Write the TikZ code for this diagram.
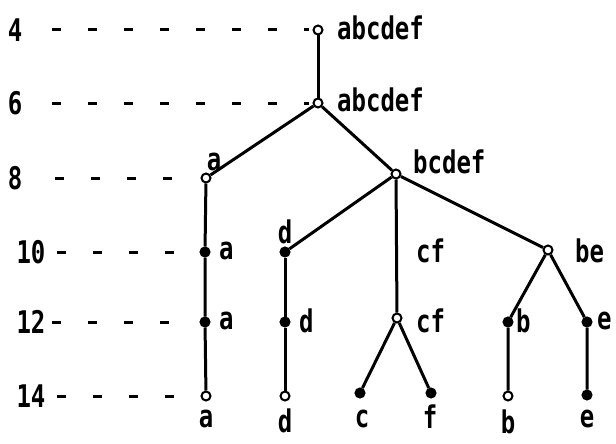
\documentclass[tikz,border=0pt]{standalone}
\usepackage{fontspec}
\usepackage{graphicx}
\setmonofont{DejaVu Sans Mono}
\newcommand{\tall}[1]{\scalebox{1}[1.3]{#1}}
\begin{document}
\begin{tikzpicture}[x=1pt,y=-1pt,
  opn/.style={circle,draw,line width=2pt,fill=white,inner sep=0pt,minimum size=9pt},
  ful/.style={circle,draw,line width=2pt,fill=black,inner sep=0pt,minimum size=9pt},
  lbl/.style={font=\ttfamily\bfseries\fontsize{24}{24}\selectfont,inner sep=0pt},
  edge/.style={line width=3pt},
  lvl/.style={line width=3pt,dash pattern=on 9pt off 27pt}]
\useasboundingbox (0,0) rectangle (616,444);
% tree nodes
\node[opn] (r4) at (318,30) {};
\node[opn] (r6) at (318,103) {};
\node[opn] (a8) at (206,178) {};
\node[opn] (bc8) at (396,174) {};
\node[ful] (a10) at (205,252) {};
\node[ful] (d10) at (285,252) {};
\node[opn] (be10) at (548,250) {};
\node[ful] (a12) at (205,322) {};
\node[ful] (d12) at (285,322) {};
\node[opn] (cf12) at (397,318) {};
\node[ful] (b12) at (508,322) {};
\node[ful] (e12) at (587,322) {};
\node[opn] (a14) at (206,396) {};
\node[opn] (d14) at (285,396) {};
\node[ful] (c14) at (360,393) {};
\node[ful] (f14) at (431,393) {};
\node[opn] (b14) at (508,396) {};
\node[ful] (e14) at (587,395) {};
% edges
\draw[edge] (r4) -- (r6);
\draw[edge] (r6) -- (a8);
\draw[edge] (r6) -- (bc8);
\draw[edge] (a8) -- (a10) -- (a12) -- (a14);
\draw[edge] (bc8) -- (d10);
\draw[edge] (bc8) -- (cf12);
\draw[edge] (bc8) -- (be10);
\draw[edge] (d10) -- (d12) -- (d14);
\draw[edge] (cf12) -- (c14);
\draw[edge] (cf12) -- (f14);
\draw[edge] (be10) -- (b12) -- (b14);
\draw[edge] (be10) -- (e12) -- (e14);
% level numbers
\node[lbl] (n4) at (15,30) {\tall{4}};
\node[lbl] (n6) at (15,103) {\tall{6}};
\node[lbl] (n8) at (15,178) {\tall{8}};
\node[lbl] (n10) at (31,252) {\tall{10}};
\node[lbl] (n12) at (31,322) {\tall{12}};
\node[lbl] (n14) at (31,396) {\tall{14}};
% dashed level lines
\coordinate (s4) at (52,30);
\coordinate (s6) at (52,103);
\coordinate (s8) at (55,178);
\coordinate (s10) at (57,252);
\coordinate (s12) at (52,322);
\coordinate (s14) at (57,396);
\draw[lvl] (s4) -- ([xshift=-4pt]r4.west);
\draw[lvl] (s6) -- ([xshift=-4pt]r6.west);
\draw[lvl] (s8) -- ([xshift=-4pt]a8.west);
\draw[lvl] (s10) -- ([xshift=-4pt]a10.west);
\draw[lvl] (s12) -- ([xshift=-4pt]a12.west);
\draw[lvl] (s14) -- ([xshift=-4pt]a14.west);
% labels
\node[lbl,anchor=west] (l4) at (337,28) {\tall{abcdef}};
\node[lbl,anchor=west] (l6) at (337,100) {\tall{abcdef}};
\node[lbl] (la8) at (214,162) {\tall{a}};
\node[lbl,anchor=west] (lbc8) at (413,162) {\tall{bcdef}};
\node[lbl,anchor=west] (la10) at (219,251) {\tall{a}};
\node[lbl] (ld10) at (285,232) {\tall{d}};
\node[lbl,anchor=west] (lcf10) at (416,251) {\tall{cf}};
\node[lbl,anchor=west] (lbe10) at (575,251) {\tall{be}};
\node[lbl,anchor=west] (la12) at (219,321) {\tall{a}};
\node[lbl,anchor=west] (ld12) at (299,321) {\tall{d}};
\node[lbl,anchor=west] (lcf12) at (416,321) {\tall{cf}};
\node[lbl,anchor=west] (lb12) at (516,321) {\tall{b}};
\node[lbl,anchor=west] (le12) at (597,321) {\tall{e}};
\node[lbl] (la14) at (206,419) {\tall{a}};
\node[lbl] (ld14) at (285,421) {\tall{d}};
\node[lbl] (lc14) at (362,419) {\tall{c}};
\node[lbl] (lf14) at (430,417) {\tall{f}};
\node[lbl] (lb14) at (508,422) {\tall{b}};
\node[lbl] (le14) at (587,419) {\tall{e}};
\end{tikzpicture}
\end{document}
